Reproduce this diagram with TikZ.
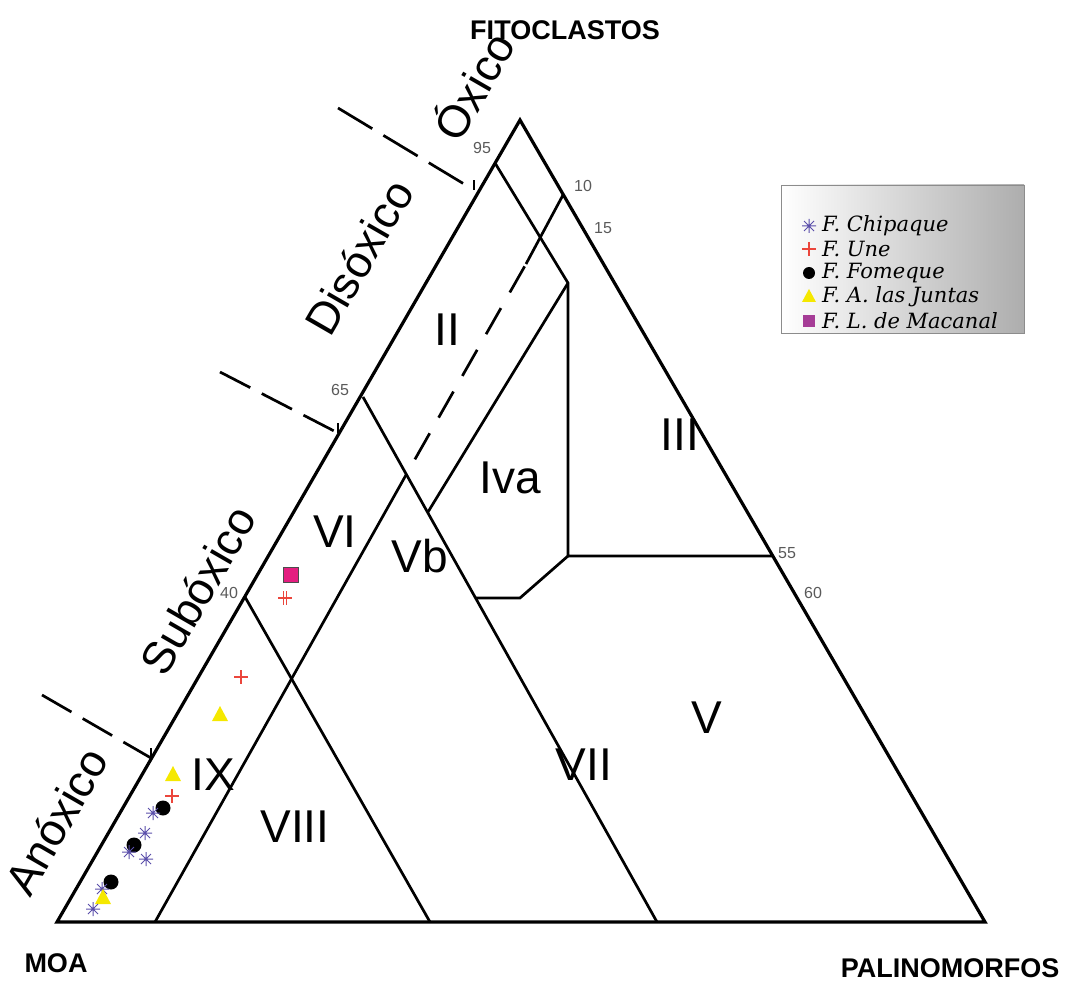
\documentclass[tikz,border=0pt]{standalone}
\usepackage{fontspec}
\setmainfont{Liberation Sans}
\newfontfamily\legfont{DejaVu Serif}
\definecolor{astcol}{RGB}{90,78,170}
\definecolor{pluscol}{RGB}{235,70,60}
\definecolor{yelcol}{RGB}{245,232,0}
\definecolor{sqcol}{RGB}{228,30,128}
\definecolor{sqleg}{RGB}{165,60,150}
\definecolor{numcol}{RGB}{90,90,90}
\begin{document}
\begin{tikzpicture}[x=1pt,y=-1pt,
  edge/.style={line width=3.2pt, line join=miter},
  inner/.style={line width=2.7pt},
  sepline/.style={line width=2.7pt, dash pattern=on 34pt off 13pt},
  sepone/.style={line width=2.7pt, dash pattern=on 40pt off 13pt},
  dline/.style={line width=2.7pt, dash pattern=on 30pt off 18pt, dash phase=30pt},
  reg/.style={font=\fontsize{46}{46}\selectfont, inner sep=0pt},
  axl/.style={font=\fontsize{45}{45}\selectfont, rotate=60, inner sep=0pt},
  num/.style={font=\fontsize{16}{16}\selectfont, text=numcol, inner sep=0pt},
  cornerlab/.style={font=\fontsize{27}{27}\selectfont\bfseries, inner sep=0pt},
  leg/.style={font=\legfont\itshape\fontsize{21}{21}\selectfont, anchor=west, inner sep=0pt},
  astk/.pic={\draw[astcol, line width=1pt] (-7,0)--(7,0) (0,-7)--(0,7) (-5,-5)--(5,5) (-5,5)--(5,-5);},
  plusk/.pic={\draw[pluscol, line width=1.1pt] (-7,0)--(7,0) (0,-7)--(0,7);},
  dplusk/.pic={\draw[pluscol, line width=1.1pt] (-7,0)--(7,0) (-1.5,-7)--(-1.5,7) (1.5,-7)--(1.5,7);},
  dotk/.pic={\fill[black] (0,0) circle (7.5);},
  trik/.pic={\fill[yelcol] (0,-9) -- (-8,6) -- (8,6) -- cycle;},
  sqk/.pic={\filldraw[fill=sqcol, draw=black!70, line width=0.6pt] (-7.5,-7.5) rectangle (7.5,7.5);},
]
\useasboundingbox (0,0) rectangle (1076,981);

% main triangle
\coordinate (B) at (57,922);
\coordinate (R) at (985,922);
\coordinate (T) at (520,120);
\draw[edge] (B) -- (R) -- (T) -- cycle;

% points on edges
\coordinate (p95) at (495,163);
\coordinate (p65) at (363,397);
\coordinate (p40) at (245,597);
\coordinate (p10) at (563,195);
\coordinate (p55) at (773,556);

% inner lines
\coordinate (k) at (568,283);
\coordinate (m) at (568,556);
\coordinate (q) at (428,512);
\coordinate (n1) at (520,598);
\coordinate (n2) at (476,598);
\coordinate (b65) at (657,922);
\coordinate (b155) at (155,922);
\coordinate (v1) at (406,475);
\coordinate (dtop) at (526,264);
\coordinate (b430) at (430,922);

\draw[inner] (p95) -- (k) -- (m) -- (p55);
\draw[inner] (k) -- (q);
\draw[inner] (m) -- (n1) -- (n2);
\draw[inner] (p65) -- (b65);
\draw[inner] (b155) -- (v1);
\draw[dline] (v1) -- (dtop);
\draw[inner] (dtop) -- (p10);
\draw[inner] (p40) -- (b430);

% separators
\coordinate (s1a) at (338,108);
\coordinate (s1b) at (474,190);
\coordinate (s2a) at (220,372);
\coordinate (s2b) at (338,433);
\coordinate (s3a) at (42,695);
\coordinate (s3b) at (151,758);
\draw[sepone] (s1a) -- (s1b);
\draw[sepline] (s2a) -- (s2b);
\draw[sepline] (s3a) -- (s3b);
\draw[inner] (s1b) -- ++(0,-10);
\draw[inner] (s2b) -- ++(0,-10);
\draw[inner] (s3b) -- ++(0,-10);

% axis labels
\node[axl] (oxico) at (472,85) {Óxico};
\node[axl] (disoxico) at (359,257) {Disóxico};
\node[axl] (suboxico) at (198,590) {Subóxico};
\node[axl] (anoxico) at (56,821) {Anóxico};

% numbers
\node[num] (n95) at (482,148) {95};
\node[num] (n10) at (583,186) {10};
\node[num] (n15) at (603,228) {15};
\node[num] (n65) at (340,390) {65};
\node[num] (n40) at (229,593) {40};
\node[num] (n55) at (787,553) {55};
\node[num] (n60) at (813,593) {60};

% region labels
\node[reg] (rII) at (447,330) {II};
\node[reg] (rIII) at (680,435) {III};
\node[reg] (rIva) at (510,478) {Iva};
\node[reg] (rVI) at (335,532) {VI};
\node[reg] (rVb) at (420,556) {Vb};
\node[reg] (rV) at (707,718) {V};
\node[reg] (rVII) at (584,765) {VII};
\node[reg] (rIX) at (213,775) {IX};
\node[reg] (rVIII) at (295,827) {VIII};

% corner labels
\node[cornerlab] (fito) at (565,30) {FITOCLASTOS};
\node[cornerlab] (moa) at (56,963) {MOA};
\node[cornerlab] (palino) at (950,968) {PALINOMORFOS};

% data points
\pic at (291,575) {sqk};
\pic at (285,598) {dplusk};
\pic at (241,677) {plusk};
\pic at (220,715) {trik};
\pic at (173,775) {trik};
\pic at (172,796) {plusk};
\pic at (163,808) {dotk};
\pic at (153,813) {astk};
\pic at (145,833) {astk};
\pic at (134,845) {dotk};
\pic at (129,852) {astk};
\pic at (146,859) {astk};
\pic at (111,882) {dotk};
\pic at (102,889) {astk};
\pic at (103,898) {trik};
\pic at (93,909) {astk};

% legend
\shade[left color=white, right color=black!32, draw=black!45, line width=0.6pt] (781,185) rectangle (1024,333);
\pic at (809,226) {astk};
\pic at (809,249) {plusk};
\fill[black] (809,273) circle (6);
\fill[yelcol] (809,289) -- (802,302) -- (816,302) -- cycle;
\fill[sqleg] (803,315) rectangle (815,327);
\node[leg] (l1) at (822,226) {F. Chipaque};
\node[leg] (l2) at (822,249) {F. Une};
\node[leg] (l3) at (822,273) {F. Fomeque};
\node[leg] (l4) at (822,297) {F. A. las Juntas};
\node[leg] (l5) at (822,321) {F. L. de Macanal};
\end{tikzpicture}
\end{document}
